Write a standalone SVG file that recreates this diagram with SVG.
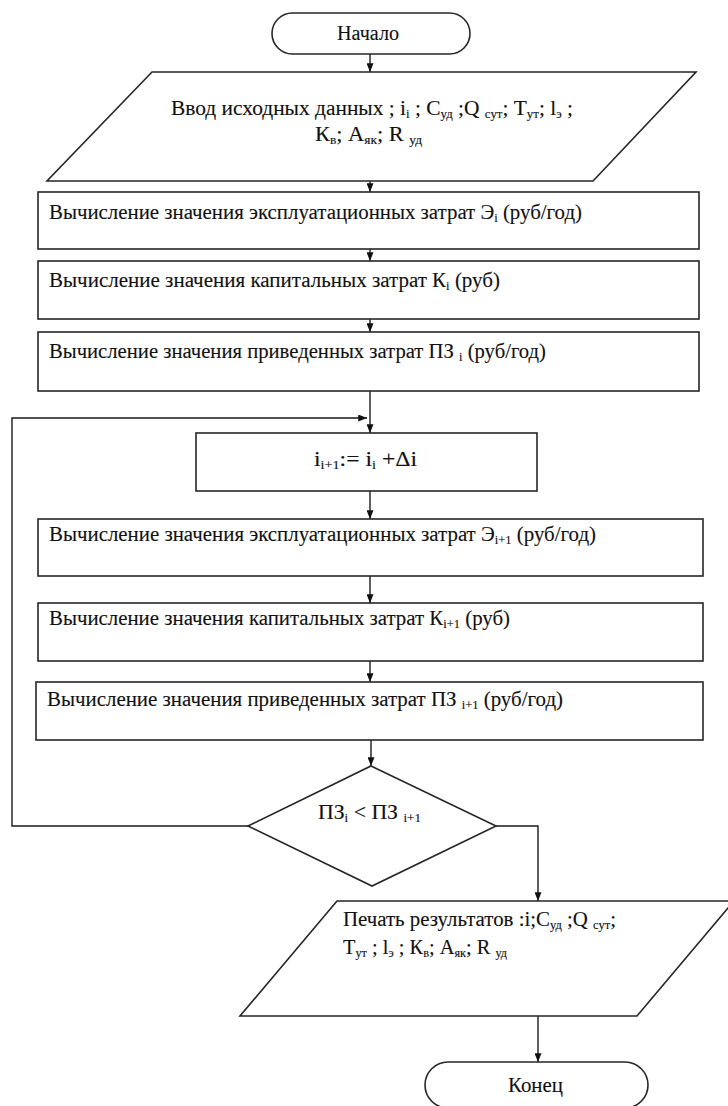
<svg xmlns="http://www.w3.org/2000/svg" width="728" height="1106" viewBox="0 0 728 1106">
<style>
.shape{fill:#fff;stroke:#262626;stroke-width:1.6}
.conn{fill:none;stroke:#1a1a1a;stroke-width:1.4}
text{font-family:"Liberation Serif","Times New Roman",serif;font-size:20px;fill:#111;stroke:#111;stroke-width:0.12}
.s{font-size:12px}
</style>
<defs>
<marker id="arr" viewBox="0 0 10 8" refX="10" refY="4" markerWidth="9" markerHeight="7" markerUnits="userSpaceOnUse" orient="auto"><path d="M0,0 L10,4 L0,8 z" fill="#111"/></marker>
</defs>
<g id="connectors">
<path class="conn" d="M370,54 V72" marker-end="url(#arr)"/>
<path class="conn" d="M370,181 V192" marker-end="url(#arr)"/>
<path class="conn" d="M370,249 V261" marker-end="url(#arr)"/>
<path class="conn" d="M370,319 V332" marker-end="url(#arr)"/>
<path class="conn" d="M370,391 V433" marker-end="url(#arr)"/>
<path class="conn" d="M248,826 H12 V418 H367" marker-end="url(#arr)"/>
<path class="conn" d="M370,491 V519" marker-end="url(#arr)"/>
<path class="conn" d="M370,576 V603" marker-end="url(#arr)"/>
<path class="conn" d="M370,661 V682" marker-end="url(#arr)"/>
<path class="conn" d="M371,740 V766" marker-end="url(#arr)"/>
<path class="conn" d="M496,826 H538 V901" marker-end="url(#arr)"/>
<path class="conn" d="M538,1016 V1062" marker-end="url(#arr)"/>
</g>
<g id="start">
<rect class="shape" x="272" y="13" width="198" height="41" rx="20.5"/>
<text x="337" y="40" textLength="62" lengthAdjust="spacingAndGlyphs">Начало</text>
</g>
<g id="input">
<polygon class="shape" points="152,72 696,72 593,181 47,181"/>
<text x="171" y="115" textLength="402" lengthAdjust="spacingAndGlyphs">Ввод исходных данных ; i<tspan class="s" dy="3">i</tspan><tspan dy="-3"> ; С</tspan><tspan class="s" dy="3">уд</tspan><tspan dy="-3"> ;Q </tspan><tspan class="s" dy="3">сут</tspan><tspan dy="-3">; Т</tspan><tspan class="s" dy="3">ут</tspan><tspan dy="-3">; l</tspan><tspan class="s" dy="3">э</tspan><tspan dy="-3"> ;</tspan></text>
<text x="315" y="141" textLength="107" lengthAdjust="spacingAndGlyphs">К<tspan class="s" dy="3">в</tspan><tspan dy="-3">; А</tspan><tspan class="s" dy="3">як</tspan><tspan dy="-3">; R </tspan><tspan class="s" dy="3">уд</tspan></text>
</g>
<g id="calc-e">
<rect class="shape" x="38" y="192" width="661" height="57"/>
<text x="49" y="219" textLength="533" lengthAdjust="spacingAndGlyphs">Вычисление значения эксплуатационных затрат Э<tspan class="s" dy="3">i</tspan><tspan dy="-3"> (руб/год)</tspan></text>
</g>
<g id="calc-k">
<rect class="shape" x="38" y="261" width="661" height="58"/>
<text x="49" y="287" textLength="451" lengthAdjust="spacingAndGlyphs">Вычисление значения капитальных затрат К<tspan class="s" dy="3">i</tspan><tspan dy="-3"> (руб)</tspan></text>
</g>
<g id="calc-pz">
<rect class="shape" x="38" y="332" width="661" height="59"/>
<text x="49" y="358" textLength="497" lengthAdjust="spacingAndGlyphs">Вычисление значения приведенных затрат ПЗ <tspan class="s" dy="3">i</tspan><tspan dy="-3"> (руб/год)</tspan></text>
</g>
<g id="increment">
<rect class="shape" x="196" y="433" width="341" height="58"/>
<text x="314" y="466" textLength="103" lengthAdjust="spacingAndGlyphs">i<tspan class="s" dy="3">i+1</tspan><tspan dy="-3">:= i</tspan><tspan class="s" dy="3">i</tspan><tspan dy="-3"> +Δi</tspan></text>
</g>
<g id="calc-e1">
<rect class="shape" x="38" y="519" width="665" height="57"/>
<text x="49" y="541" textLength="547" lengthAdjust="spacingAndGlyphs">Вычисление значения эксплуатационных затрат Э<tspan class="s" dy="3">i+1</tspan><tspan dy="-3"> (руб/год)</tspan></text>
</g>
<g id="calc-k1">
<rect class="shape" x="38" y="603" width="665" height="58"/>
<text x="49" y="625" textLength="461" lengthAdjust="spacingAndGlyphs">Вычисление значения капитальных затрат К<tspan class="s" dy="3">i+1</tspan><tspan dy="-3"> (руб)</tspan></text>
</g>
<g id="calc-pz1">
<rect class="shape" x="36" y="682" width="667" height="58"/>
<text x="47" y="706" textLength="516" lengthAdjust="spacingAndGlyphs">Вычисление значения приведенных затрат ПЗ <tspan class="s" dy="3">i+1</tspan><tspan dy="-3"> (руб/год)</tspan></text>
</g>
<g id="decision">
<polygon class="shape" points="371,766 496,826 372,886 248,826"/>
<text x="318" y="819" textLength="103" lengthAdjust="spacingAndGlyphs">ПЗ<tspan class="s" dy="3">i</tspan><tspan dy="-3"> &lt; ПЗ </tspan><tspan class="s" dy="3">i+1</tspan></text>
</g>
<g id="output">
<polygon class="shape" points="337,901 734,901 637,1016 240,1016"/>
<text x="343" y="926" textLength="273" lengthAdjust="spacingAndGlyphs">Печать результатов :i;С<tspan class="s" dy="3">уд</tspan><tspan dy="-3"> ;Q </tspan><tspan class="s" dy="3">сут</tspan><tspan dy="-3">;</tspan></text>
<text x="343" y="954" textLength="164" lengthAdjust="spacingAndGlyphs">Т<tspan class="s" dy="3">ут</tspan><tspan dy="-3"> ; l</tspan><tspan class="s" dy="3">э</tspan><tspan dy="-3"> ; К</tspan><tspan class="s" dy="3">в</tspan><tspan dy="-3">; А</tspan><tspan class="s" dy="3">як</tspan><tspan dy="-3">; R </tspan><tspan class="s" dy="3">уд</tspan></text>
</g>
<g id="end">
<rect class="shape" x="425" y="1062" width="223" height="46" rx="23"/>
<text x="508" y="1092" textLength="55" lengthAdjust="spacingAndGlyphs">Конец</text>
</g>
</svg>
